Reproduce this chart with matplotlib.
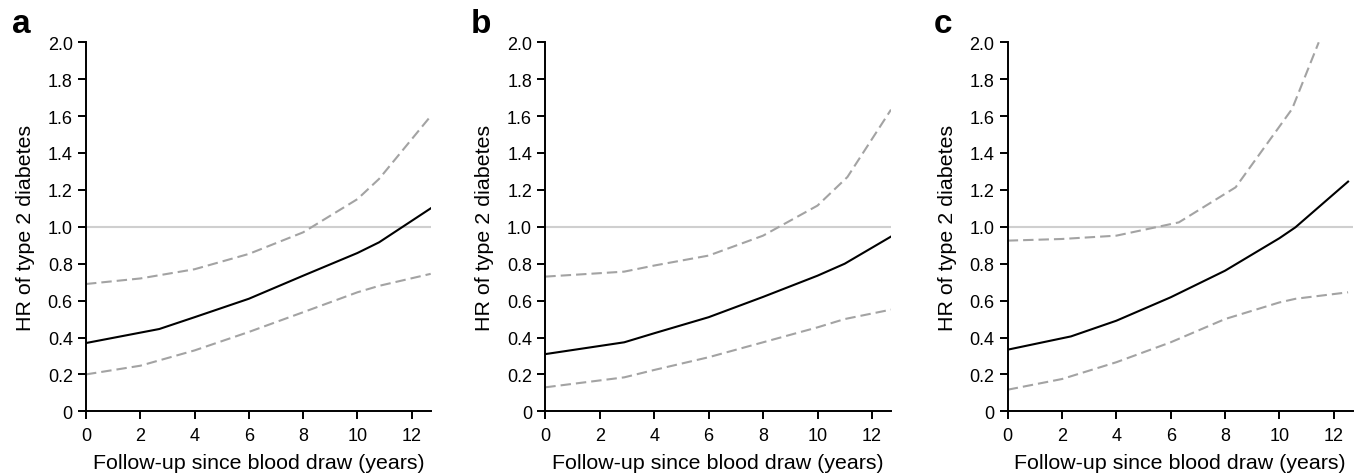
import matplotlib
matplotlib.use("Agg")
import matplotlib.pyplot as plt
import numpy as np

plt.rcParams['font.family'] = ['Liberation Sans', 'DejaVu Sans']

# Panel a
a_x = [0, 2.7, 4, 6, 8, 10, 10.8, 12.7]
a_hr = [0.37, 0.446, 0.51, 0.61, 0.735, 0.858, 0.916, 1.10]
a_upper_x = [0, 2, 4, 6, 8, 10, 10.8, 12.7]
a_upper = [0.69, 0.72, 0.77, 0.853, 0.97, 1.15, 1.26, 1.60]
a_lower_x = [0, 2, 4, 6, 8, 10, 10.8, 12.7]
a_lower = [0.20, 0.247, 0.33, 0.43, 0.537, 0.645, 0.68, 0.745]

# Panel b
b_x = [0, 2.9, 4, 6, 8, 10, 11.0, 12.7]
b_hr = [0.31, 0.374, 0.423, 0.51, 0.62, 0.735, 0.80, 0.947]
b_upper_x = [0, 2.9, 4, 6, 8, 10, 11.1, 12.7]
b_upper = [0.73, 0.757, 0.79, 0.844, 0.952, 1.115, 1.27, 1.635]
b_lower_x = [0, 2.9, 4, 6, 8, 10, 11.0, 12.7]
b_lower = [0.13, 0.184, 0.224, 0.293, 0.374, 0.455, 0.50, 0.551]

# Panel c
c_x = [0, 2.33, 4, 6, 8, 10, 10.59, 12.53]
c_hr = [0.334, 0.406, 0.491, 0.618, 0.762, 0.938, 0.997, 1.245]
c_upper_x = [0, 2, 4, 6.3, 8.39, 10.47, 11.45]
c_upper = [0.925, 0.934, 0.952, 1.024, 1.214, 1.639, 2.0]
c_lower_x = [0, 2, 4, 6, 8, 10, 10.6, 12.53]
c_lower = [0.117, 0.175, 0.266, 0.374, 0.50, 0.59, 0.61, 0.645]

panel_labels = ['a', 'b', 'c']
x_ticks = [0, 2, 4, 6, 8, 10, 12]
y_ticks = [0, 0.2, 0.4, 0.6, 0.8, 1.0, 1.2, 1.4, 1.6, 1.8, 2.0]
y_ticklabels = ['0', '0.2', '0.4', '0.6', '0.8', '1.0', '1.2', '1.4', '1.6', '1.8', '2.0']
xlabel = 'Follow-up since blood draw (years)'
ylabel = 'HR of type 2 diabetes'

panels = [
    (a_x, a_hr, a_upper_x, a_upper, a_lower_x, a_lower),
    (b_x, b_hr, b_upper_x, b_upper, b_lower_x, b_lower),
    (c_x, c_hr, c_upper_x, c_upper, c_lower_x, c_lower),
]

fig = plt.figure(figsize=(13.6, 4.77), dpi=100)
W, H = 1360, 477
lefts = [86, 545.3, 1007.7]
rights = [430.7, 891, 1352.7]
top_px, bot_px = 43.3, 412.3
label_x = [12, 471, 934]

for i, (px, hr, ux, up, lx, lo) in enumerate(panels):
    ax = fig.add_axes([lefts[i] / W, 1 - bot_px / H, (rights[i] - lefts[i]) / W, (bot_px - top_px) / H])
    ax.axhline(1.0, color='#cfcfcf', lw=1.5, zorder=1)
    ax.plot(ux, up, color='#a3a3a3', lw=1.5, dashes=(5, 2.4), zorder=2)
    ax.plot(lx, lo, color='#a3a3a3', lw=1.5, dashes=(5, 2.4), zorder=2)
    ax.plot(px, hr, color='black', lw=1.5, zorder=3)
    ax.set_xlim(0, 12.7)
    ax.set_ylim(0, 2.0)
    ax.set_xticks(x_ticks)
    ax.set_yticks(y_ticks)
    ax.set_yticklabels(y_ticklabels)
    ax.spines['top'].set_visible(False)
    ax.spines['right'].set_visible(False)
    for s in ['left', 'bottom']:
        ax.spines[s].set_linewidth(1.4)
    ax.tick_params(direction='out', length=6, width=1.4, labelsize=13, pad=3.5)
    ax.tick_params(axis='x', pad=5)
    ax.set_xlabel(xlabel, fontsize=15.4, labelpad=7)
    ax.set_ylabel(ylabel, fontsize=15.4, labelpad=9)
    fig.text(label_x[i] / W, 1 - 33 / H, panel_labels[i], fontsize=24, fontweight='bold',
             ha='left', va='baseline')

fig.savefig('out.png', dpi=100)
